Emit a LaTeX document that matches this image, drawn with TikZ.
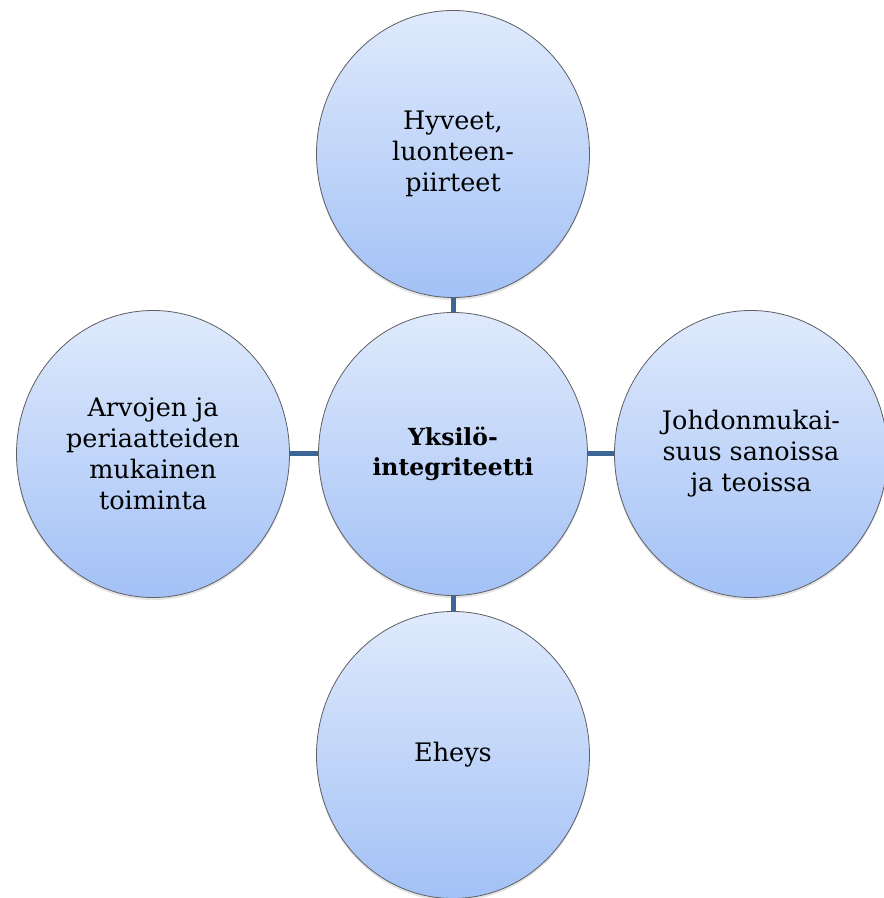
\documentclass[tikz,border=0pt]{standalone}
\usepackage{fontspec}
\setmainfont{DejaVu Serif}
\usetikzlibrary{shapes.geometric,shadows}
\definecolor{linkblue}{RGB}{60,102,150}
\definecolor{toplight}{RGB}{223,234,252}
\definecolor{botblue}{RGB}{163,193,246}
\definecolor{rimgray}{RGB}{95,95,100}
\begin{document}
\begin{tikzpicture}[x=1pt,y=1pt,
  bubble/.style={ellipse, draw=rimgray, line width=0.8pt,
    minimum width=273pt, minimum height=287pt, inner sep=0pt,
    top color=toplight, bottom color=botblue, align=center,
    font=\fontsize{25.5}{31}\selectfont,
    drop shadow={opacity=0.22, shadow xshift=0pt, shadow yshift=-2.5pt}},
  hubbubble/.style={bubble, minimum width=269pt, minimum height=283pt,
    font=\fontsize{23.5}{30}\selectfont\bfseries},
  link/.style={draw=linkblue, line width=5pt}]
\useasboundingbox (0,0) rectangle (884,898);

% central idea and its four aspects
\node[hubbubble] (hub) at (453,444) {Yksilö-\\integriteetti};
\node[bubble] (top) at (453,744) {Hyveet,\\luonteen-\\piirteet};
\node[bubble] (left) at (153,444) {Arvojen ja\\periaatteiden\\mukainen\\toiminta};
\node[bubble] (right) at (751,444) {Johdonmukai-\\suus sanoissa\\ja teoissa};
\node[bubble] (bottom) at (453,143) {Eheys};

% short links from the hub to each aspect
\draw[link] (hub.north) -- (top.south);
\draw[link] (hub.west) -- (left.east);
\draw[link] (hub.east) -- (right.west);
\draw[link] (hub.south) -- (bottom.north);
\end{tikzpicture}
\end{document}
